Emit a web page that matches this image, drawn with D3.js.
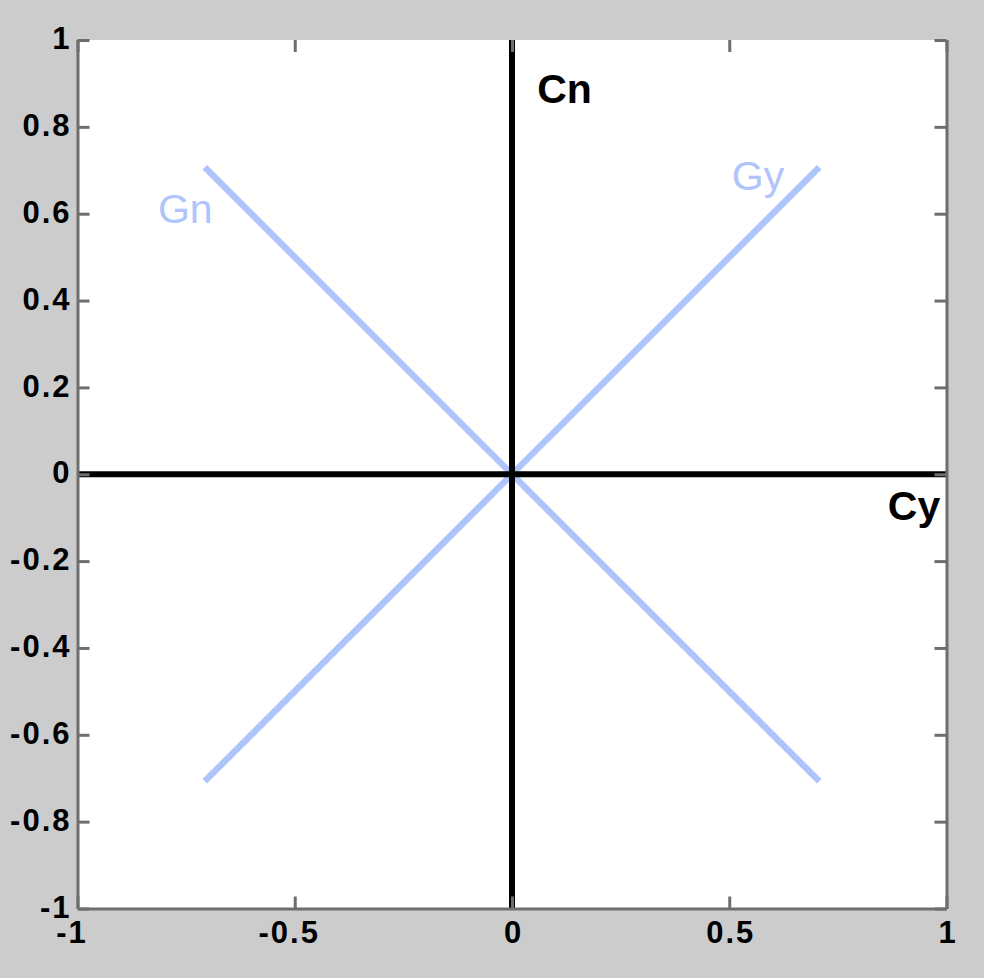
<!DOCTYPE html>
<html>
<head>
<meta charset="utf-8">
<script src="https://cdn.jsdelivr.net/npm/d3@7/dist/d3.min.js"></script>
<style>
  html, body { margin: 0; padding: 0; background: #cccccc; }
  svg { display: block; }
</style>
</head>
<body>
<svg id="chart" width="984" height="978"></svg>
<script>
// Tick values
const xTicks = [-1, -0.5, 0, 0.5, 1];
const yTicks = [-1, -0.8, -0.6, -0.4, -0.2, 0, 0.2, 0.4, 0.6, 0.8, 1];

// Coordinate axes drawn as black lines through the origin
const axisNames = ["Cy", "Cn"];
const axisFrom = [[-1, 0], [0, -1]];
const axisTo = [[1, 0], [0, 1]];

// Diagonal G-axes (light blue)
const gNames = ["Gy", "Gn"];
const gFrom = [[-0.7071, -0.7071], [0.7071, -0.7071]];
const gTo = [[0.7071, 0.7071], [-0.7071, 0.7071]];

// Label anchors in data units
const labelText = ["Cn", "Cy", "Gn", "Gy"];
const labelX = [0.058, 0.865, -0.815, 0.506];
const labelY = [0.855, -0.106, 0.578, 0.654];
const labelKind = ["c", "c", "g", "g"];

const svg = d3.select("#chart");
const plotLeft = 77.5, plotRight = 946.5, plotTop = 40, plotBottom = 908.5;

const x = d3.scaleLinear().domain([-1, 1]).range([plotLeft, plotRight]);
const y = d3.scaleLinear().domain([-1, 1]).range([plotBottom, plotTop]);

const blue = "#b0c4fc";
const frameColor = "#6e6e6e";
const font = "'Liberation Sans', Arial, Helvetica, sans-serif";

// Plot background
svg.append("rect")
  .attr("x", plotLeft).attr("y", plotTop)
  .attr("width", plotRight - plotLeft).attr("height", plotBottom - plotTop)
  .attr("fill", "#ffffff");

// Diagonal lines
gFrom.forEach((f, i) => {
  svg.append("line")
    .attr("x1", x(f[0])).attr("y1", y(f[1]))
    .attr("x2", x(gTo[i][0])).attr("y2", y(gTo[i][1]))
    .attr("stroke", blue).attr("stroke-width", 6.5)
    .attr("stroke-linecap", "butt");
});

// Black axis lines
axisFrom.forEach((f, i) => {
  svg.append("line")
    .attr("x1", x(f[0])).attr("y1", y(f[1]))
    .attr("x2", x(axisTo[i][0])).attr("y2", y(axisTo[i][1]))
    .attr("stroke", "#000000").attr("stroke-width", 6);
});

// Axes with inward ticks
const tickLen = 12;
const fmt = d => String(+d.toFixed(1));
const gLeft = svg.append("g").attr("transform", `translate(${plotLeft},0)`)
  .call(d3.axisLeft(y).tickValues(yTicks).tickSizeInner(-tickLen).tickSizeOuter(0).tickPadding(6)
    .tickFormat(fmt));
const gRight = svg.append("g").attr("transform", `translate(${plotRight},0)`)
  .call(d3.axisRight(y).tickValues(yTicks).tickSizeInner(-tickLen).tickSizeOuter(0).tickFormat(""));
const gBottom = svg.append("g").attr("transform", `translate(0,${plotBottom})`)
  .call(d3.axisBottom(x).tickValues(xTicks).tickSizeInner(-tickLen).tickSizeOuter(0).tickPadding(12)
    .tickFormat(fmt));
const gTop = svg.append("g").attr("transform", `translate(0,${plotTop})`)
  .call(d3.axisTop(x).tickValues(xTicks).tickSizeInner(-tickLen).tickSizeOuter(0).tickFormat(""));

[gLeft, gRight, gBottom, gTop].forEach(g => {
  g.selectAll(".tick line").attr("stroke", frameColor).attr("stroke-width", 3);
  g.selectAll("text")
    .attr("fill", "#000000")
    .style("font-family", font)
    .style("font-weight", "bold")
    .style("font-size", "31px")
    .style("letter-spacing", "2px");
});
gTop.select(".domain").remove();
[gLeft, gRight, gBottom].forEach(g =>
  g.select(".domain").attr("stroke", frameColor).attr("stroke-width", 3));
gLeft.selectAll("text").attr("dy", "0.28em");
// Bottom labels: the number is centred on the tick, a minus sign hangs to the left
gBottom.selectAll("text").attr("dy", "0.71em")
  .attr("dx", d => d < 0 ? -6 : 1);

// Labels
labelText.forEach((t, i) => {
  const isC = labelKind[i] === "c";
  svg.append("text")
    .attr("x", x(labelX[i])).attr("y", y(labelY[i]))
    .attr("fill", isC ? "#000000" : blue)
    .style("font-family", font)
    .style("font-weight", isC ? "bold" : "normal")
    .style("font-size", "41px")
    .text(t);
});
</script>
</body>
</html>
